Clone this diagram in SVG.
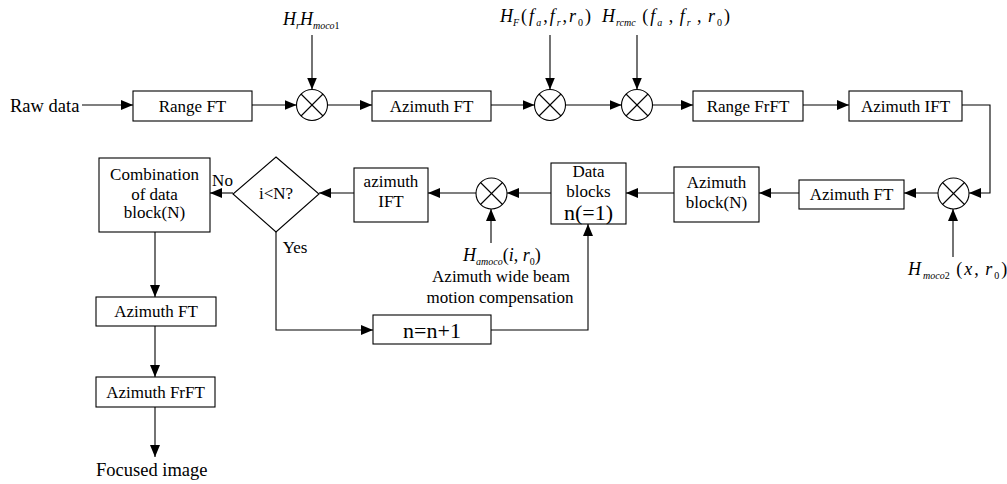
<svg xmlns="http://www.w3.org/2000/svg" width="1007" height="484" viewBox="0 0 1007 484" font-family="'Liberation Serif', 'Times New Roman', 'DejaVu Serif', serif">
<style>
text{font-family:'Liberation Serif', 'Times New Roman', 'DejaVu Serif', serif;fill:#000}
.t{font-size:17px;text-anchor:middle}
.l{font-size:18.5px}
.big{font-size:22px;text-anchor:middle}
.m{font-size:18px}
.i{font-style:italic}
.s{font-size:10px;font-style:italic}
.u{font-size:10px;font-style:normal}
rect,polygon,circle{fill:#fff;stroke:#000;stroke-width:1.1}
.x{stroke:#000;stroke-width:1.1}
.c path{fill:none;stroke:#000;stroke-width:1.1}
</style>
<defs>
<marker id="a" markerUnits="userSpaceOnUse" markerWidth="12" markerHeight="10" refX="12" refY="5" orient="auto">
<path d="M0,0 L12,5 L0,10 z" fill="#000"/>
</marker>
<g id="mul"><circle cx="0" cy="0" r="15.5"/><line class="x" x1="-11" y1="-11" x2="11" y2="11"/><line class="x" x1="-11" y1="11" x2="11" y2="-11"/></g>
</defs>

<g class="c" id="connectors">
<path d="M82,105 H133" marker-end="url(#a)"/>
<path d="M252,105 H296.5" marker-end="url(#a)"/>
<path d="M327.5,105 H372" marker-end="url(#a)"/>
<path d="M312,35 V89.5" marker-end="url(#a)"/>
<path d="M491,105 H534.5" marker-end="url(#a)"/>
<path d="M550,35 V89.5" marker-end="url(#a)"/>
<path d="M565.5,105 H621.5" marker-end="url(#a)"/>
<path d="M637,35 V89.5" marker-end="url(#a)"/>
<path d="M652.5,105 H693" marker-end="url(#a)"/>
<path d="M803,105 H849" marker-end="url(#a)"/>
<path d="M962,105 H990 V193 H969" marker-end="url(#a)"/>
<path d="M953,257 V209" marker-end="url(#a)"/>
<path d="M938,193 H904" marker-end="url(#a)"/>
<path d="M799,193 H759" marker-end="url(#a)"/>
<path d="M674,193 H626" marker-end="url(#a)"/>
<path d="M551,193 H507" marker-end="url(#a)"/>
<path d="M491,243 V209" marker-end="url(#a)"/>
<path d="M476,193 H428" marker-end="url(#a)"/>
<path d="M354,193 H319" marker-end="url(#a)"/>
<path d="M233,193 H210" marker-end="url(#a)"/>
<path d="M276,232 V330 H373" marker-end="url(#a)"/>
<path d="M491,330 H588 V224" marker-end="url(#a)"/>
<path d="M155,232 V297" marker-end="url(#a)"/>
<path d="M155,326 V377" marker-end="url(#a)"/>
<path d="M155,407 V457" marker-end="url(#a)"/>
</g>

<g id="raw"><text class="l" x="10" y="112">Raw data</text></g>
<g id="rangeFT"><rect x="133" y="91" width="119" height="30"/><text class="t" x="192.5" y="112">Range FT</text></g>
<g id="mul1"><use href="#mul" x="312" y="105"/></g>
<g id="lbl1"><text class="m" x="283" y="25"><tspan class="i">H</tspan><tspan class="s" dy="4">r</tspan><tspan class="i" dy="-4">H</tspan><tspan class="s" dy="4">moco</tspan><tspan class="u">1</tspan></text></g>
<g id="azFT1"><rect x="372" y="91" width="119" height="30"/><text class="t" x="431.5" y="112">Azimuth FT</text></g>
<g id="mul2"><use href="#mul" x="550" y="105"/></g>
<g id="lbl2"><text class="m" x="500" y="22"><tspan class="i">H</tspan><tspan class="s" dy="4">F</tspan><tspan dy="-4" dx="2">(</tspan><tspan class="i" dx="2">f</tspan><tspan class="s" dy="4" dx="2">a</tspan><tspan dy="-4" dx="2">,</tspan><tspan class="i" dx="2">f</tspan><tspan class="s" dy="4" dx="2">r</tspan><tspan dy="-4" dx="2">,</tspan><tspan class="i" dx="2">r</tspan><tspan class="u" dy="4" dx="2">0</tspan><tspan dy="-4" dx="2">)</tspan></text></g>
<g id="mul3"><use href="#mul" x="637" y="105"/></g>
<g id="lbl3"><text class="m" x="602" y="22"><tspan class="i">H</tspan><tspan class="s" dy="4" dx="1">rcmc</tspan><tspan dy="-4" dx="2"> (</tspan><tspan class="i" dx="2">f</tspan><tspan class="s" dy="4" dx="2">a</tspan><tspan dy="-4" dx="2"> , </tspan><tspan class="i" dx="2">f</tspan><tspan class="s" dy="4" dx="2">r</tspan><tspan dy="-4" dx="2"> , </tspan><tspan class="i" dx="2">r</tspan><tspan class="u" dy="4" dx="2">0</tspan><tspan dy="-4" dx="2">)</tspan></text></g>
<g id="rangeFrFT"><rect x="693" y="91" width="110" height="30"/><text class="t" x="748" y="112">Range FrFT</text></g>
<g id="azIFT1"><rect x="849" y="91" width="113" height="30"/><text class="t" x="905.5" y="112">Azimuth IFT</text></g>
<g id="mul5"><use href="#mul" x="953.5" y="193.5"/></g>
<g id="lbl5"><text class="m" x="908" y="275"><tspan class="i">H</tspan><tspan class="s" dy="4" dx="2">moco</tspan><tspan class="u">2</tspan><tspan dy="-4" dx="2"> (</tspan><tspan class="i" dx="2">x</tspan><tspan dx="2">, </tspan><tspan class="i" dx="2">r</tspan><tspan class="u" dy="4" dx="2">0</tspan><tspan dy="-4" dx="2">)</tspan></text></g>
<g id="azFT2"><rect x="799" y="180" width="105" height="29"/><text class="t" x="851.5" y="200">Azimuth FT</text></g>
<g id="azBlock"><rect x="674" y="167" width="85" height="55"/><text class="t" x="716.5" y="188">Azimuth</text><text class="t" x="716.5" y="208">block(N)</text></g>
<g id="dataBlocks"><rect x="551" y="163" width="75" height="61"/><text class="t" x="588.5" y="177">Data</text><text class="t" x="588.5" y="197">blocks</text><text class="big" x="588.5" y="220">n(=1)</text></g>
<g id="mul4"><use href="#mul" x="491.5" y="193.5"/></g>
<g id="lbl4"><text class="m" x="463" y="261"><tspan class="i">H</tspan><tspan class="s" dy="4">amoco</tspan><tspan dy="-4">(</tspan><tspan class="i">i</tspan><tspan>, </tspan><tspan class="i">r</tspan><tspan class="u" dy="4">0</tspan><tspan dy="-4">)</tspan></text><text class="t" x="501" y="282">Azimuth wide beam</text><text class="t" x="500" y="303">motion compensation</text></g>
<g id="azIFT2"><rect x="354" y="168" width="74" height="54"/><text class="t" x="391" y="187">azimuth</text><text class="t" x="391" y="207">IFT</text></g>
<g id="decision"><polygon points="276,157 319,194 276,232 233,194"/><text class="t" x="276" y="199">i&lt;N?</text><text class="t" x="222.5" y="186">No</text><text class="t" x="295" y="253">Yes</text></g>
<g id="incr"><rect x="373" y="315" width="118" height="29"/><text class="big" x="432" y="338">n=n+1</text></g>
<g id="combine"><rect x="99" y="158" width="111" height="74"/><text class="t" x="154.5" y="180">Combination</text><text class="t" x="154.5" y="200">of data</text><text class="t" x="154.5" y="218">block(N)</text></g>
<g id="azFT3"><rect x="96" y="297" width="120" height="29"/><text class="t" x="156" y="317">Azimuth FT</text></g>
<g id="azFrFT"><rect x="96" y="377" width="119" height="30"/><text class="t" x="155.5" y="398">Azimuth FrFT</text></g>
<g id="focused"><text class="l" x="96" y="476">Focused image</text></g>
</svg>
